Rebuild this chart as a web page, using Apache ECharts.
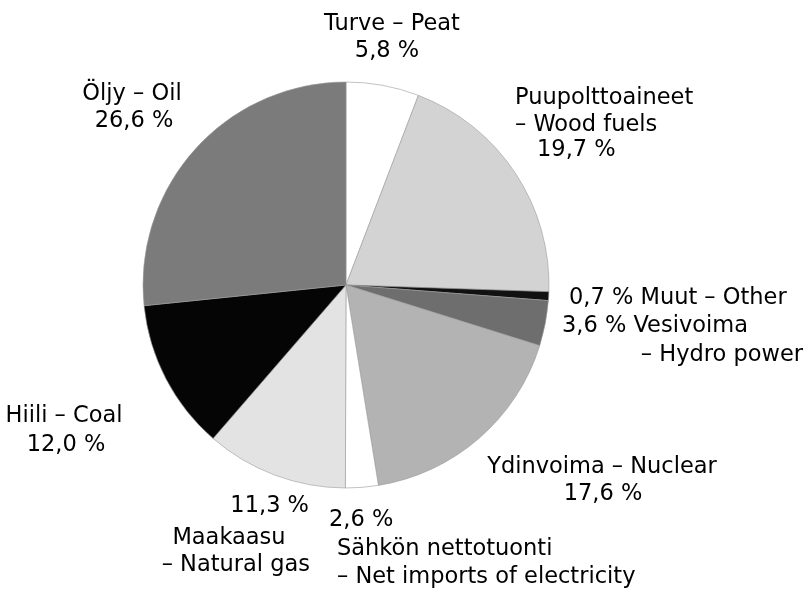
<!DOCTYPE html>
<html><head><meta charset="utf-8">
<script src="https://cdn.jsdelivr.net/npm/echarts@6/dist/echarts.min.js"></script>
<style>html,body{margin:0;padding:0;background:#fff}#c{width:808px;height:590px}</style>
</head><body><div id="c"></div>
<script>
const namesFi = ['Turve','Puupolttoaineet','Muut','Vesivoima','Ydinvoima','Sähkön nettotuonti','Maakaasu','Hiili','Öljy'];
const namesEn = ['Peat','Wood fuels','Other','Hydro power','Nuclear','Net imports of electricity','Natural gas','Coal','Oil'];
const values = [5.8, 19.7, 0.7, 3.6, 17.6, 2.6, 11.3, 12.0, 26.6];
const colors = ['#ffffff','#d3d3d3','#111111','#6e6e6e','#b3b3b3','#ffffff','#e3e3e3','#050505','#7b7b7b'];

const pct = v => v.toFixed(1).replace('.', ',') + ' %';

// label line layout: [text builder, slice index, x, y, align]
const FS = 22.5;
const labelLines = [
  [i => namesFi[0] + ' – ' + namesEn[0], 0, 392, 24, 'center'],
  [i => pct(values[0]), 0, 387, 51, 'center'],
  [i => namesFi[1], 1, 515, 98, 'left'],
  [i => '– ' + namesEn[1], 1, 515, 125, 'left'],
  [i => pct(values[1]), 1, 537, 150, 'left'],
  [i => pct(values[2]) + ' ' + namesFi[2] + ' – ' + namesEn[2], 2, 569, 298, 'left'],
  [i => pct(values[3]) + ' ' + namesFi[3], 3, 562, 326, 'left'],
  [i => '– ' + namesEn[3], 3, 803, 355, 'right'],
  [i => namesFi[4] + ' – ' + namesEn[4], 4, 602, 467, 'center'],
  [i => pct(values[4]), 4, 603, 494, 'center'],
  [i => pct(values[5]), 5, 329, 520, 'left'],
  [i => namesFi[5], 5, 337, 549, 'left'],
  [i => '– ' + namesEn[5], 5, 337, 577, 'left'],
  [i => pct(values[6]), 6, 309, 506, 'right'],
  [i => namesFi[6], 6, 229, 538, 'center'],
  [i => '– ' + namesEn[6], 6, 310, 565, 'right'],
  [i => namesFi[7] + ' – ' + namesEn[7], 7, 64, 416, 'center'],
  [i => pct(values[7]), 7, 66, 445, 'center'],
  [i => namesFi[8] + ' – ' + namesEn[8], 8, 132, 94, 'center'],
  [i => pct(values[8]), 8, 134, 121, 'center']
];

const chart = echarts.init(document.getElementById('c'), null, {renderer: 'canvas'});
chart.setOption({
  animation: false,
  backgroundColor: '#fff',
  series: [{
    type: 'pie',
    center: [346, 285],
    radius: 203,
    startAngle: 90,
    clockwise: true,
    label: {show: false},
    labelLine: {show: false},
    emphasis: {disabled: true},
    itemStyle: {borderColor: '#9a9a9a', borderWidth: 0.6},
    data: values.map((v, i) => ({
      value: v,
      name: namesFi[i] + ' – ' + namesEn[i],
      itemStyle: {color: colors[i]}
    }))
  }],
  graphic: labelLines.map(l => ({
    type: 'text',
    x: l[2],
    y: l[3],
    style: {
      text: l[0](l[1]),
      fill: '#000',
      font: FS + 'px "DejaVu Sans"',
      textAlign: l[4],
      textVerticalAlign: 'middle'
    }
  }))
});
</script>
</body></html>
